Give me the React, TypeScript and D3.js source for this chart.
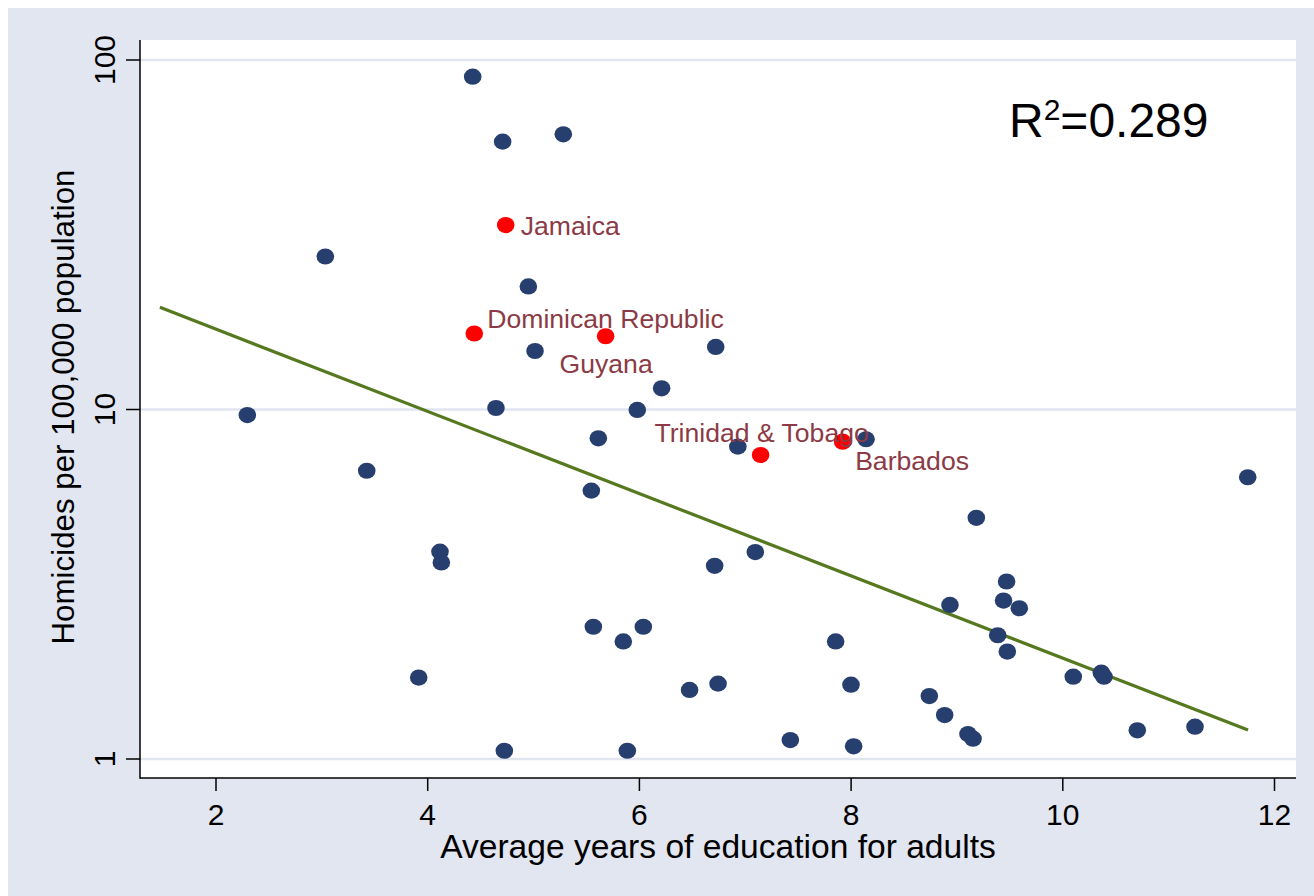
import React from 'react';
import * as d3 from 'd3';

// Other countries (years of education, homicides per 100,000)
const otherEdu = [
  4.425, 4.708, 3.033, 4.951, 5.014, 4.645, 2.296, 5.281, 6.721, 6.21,
  5.98, 3.424, 4.116, 4.129, 3.915, 4.724, 5.612, 6.93, 8.141, 5.546,
  7.095, 6.711, 5.565, 5.848, 6.037, 7.854, 6.474, 6.743, 7.999, 8.739,
  5.886, 7.426, 8.024, 11.747, 9.183, 9.469, 9.44, 9.589, 8.934, 9.385,
  9.476, 8.884, 9.104, 9.152, 10.099, 10.364, 10.389, 10.704, 11.249,
];
const otherHom = [
  89.6, 58.4, 27.4, 22.5, 14.7, 10.1, 9.64, 61.3, 15.1, 11.5,
  9.97, 6.68, 3.92, 3.65, 1.71, 1.056, 8.27, 7.83, 8.22, 5.86,
  3.91, 3.57, 2.39, 2.17, 2.39, 2.17, 1.576, 1.643, 1.632, 1.514,
  1.056, 1.133, 1.087, 6.4, 4.9, 3.22, 2.84, 2.7, 2.76, 2.26,
  2.03, 1.336, 1.179, 1.143, 1.72, 1.766, 1.72, 1.208, 1.237,
];

// Highlighted Caribbean countries
const caribNames = ['Jamaica', 'Dominican Republic', 'Guyana', 'Trinidad & Tobago', 'Barbados'];
const caribEdu = [4.737, 4.44, 5.681, 7.145, 7.92];
const caribHom = [33.7, 16.5, 16.2, 7.41, 8.09];

// Linear fit (log scale) endpoints
const fitEdu = [1.47, 11.75];
const fitHom = [19.6, 1.21];

const xTicks = [2, 4, 6, 8, 10, 12];
const yTicks = [1, 10, 100];
const xTitle = 'Average years of education for adults';
const yTitle = 'Homicides per 100,000 population';
const rSquaredText = '0.289';

// label placement (style): dx, dy, anchor
const labelPlacement: Record<string, [number, number, string]> = {
  'Jamaica': [15, 10, 'start'],
  'Dominican Republic': [13, -5.5, 'start'],
  'Guyana': [0.5, 36.6, 'middle'],
  'Trinidad & Tobago': [1, -13, 'middle'],
  'Barbados': [12.5, 28.5, 'start'],
};

const FONT = "'Liberation Sans', Arial, Helvetica, sans-serif";

export default function App() {
  const left = 140, right = 1296, top = 40, bottom = 778;
  const x = d3.scaleLinear().domain([2, 12]).range([216, 1274.5]);
  const y = d3.scaleLog().domain([1, 100]).range([759, 60]);

  const fitLine = d3.line<number>()
    .x((_, i) => x(fitEdu[i]))
    .y((_, i) => y(fitHom[i]))(fitEdu.map((v) => v)) as string;

  const navy = '#273F6E';
  const grid = '#E1E5F0';

  return (
    <svg
      width={1314}
      height={896}
      style={{ position: 'absolute', left: 0, top: 0, display: 'block' }}
      fontFamily={FONT}
    >
      <rect x={0} y={0} width={1314} height={896} fill="#ffffff" />
      <rect x={8} y={8} width={1306} height={888} fill="#E2E6F1" />
      <rect x={left} y={top} width={right - left} height={bottom - top} fill="#ffffff" />

      {/* grid lines */}
      {yTicks.map((t) => (
        <line key={'g' + t} x1={left} x2={right} y1={y(t)} y2={y(t)} stroke={grid} strokeWidth={2.5} />
      ))}

      {/* fit line */}
      <path d={fitLine} fill="none" stroke="#56781F" strokeWidth={3.2} />

      {/* other points */}
      {otherEdu.map((v, i) => (
        <ellipse key={'o' + i} cx={x(v)} cy={y(otherHom[i])} rx={8.8} ry={8.1} fill={navy} />
      ))}

      {/* caribbean points */}
      {caribEdu.map((v, i) => (
        <ellipse key={'c' + i} cx={x(v)} cy={y(caribHom[i])} rx={8.8} ry={8.1} fill="#FF0000" />
      ))}

      {/* labels */}
      {caribNames.map((n, i) => {
        const [dx, dy, anchor] = labelPlacement[n];
        return (
          <text
            key={'l' + i}
            x={x(caribEdu[i]) + dx}
            y={y(caribHom[i]) + dy}
            fontSize={26.6}
            fill="#8C3A45"
            textAnchor={anchor as any}
          >
            {n}
          </text>
        );
      })}

      {/* axes */}
      <line x1={left} x2={left} y1={top} y2={bottom + 0.75} stroke="#000" strokeWidth={1.5} />
      <line x1={left} x2={right} y1={bottom} y2={bottom} stroke="#000" strokeWidth={1.5} />
      {xTicks.map((t) => (
        <g key={'xt' + t}>
          <line x1={x(t)} x2={x(t)} y1={bottom} y2={bottom + 13} stroke="#000" strokeWidth={1.5} />
          <text x={x(t)} y={825} textAnchor="middle" fontSize={30} fill="#000">
            {t}
          </text>
        </g>
      ))}
      {yTicks.map((t) => (
        <g key={'yt' + t}>
          <line x1={left - 14} x2={left} y1={y(t)} y2={y(t)} stroke="#000" strokeWidth={1.5} />
          <text
            transform={`translate(115,${y(t)}) rotate(-90)`}
            textAnchor="middle"
            fontSize={30}
            fill="#000"
          >
            {t}
          </text>
        </g>
      ))}

      {/* axis titles */}
      <text x={(left + right) / 2} y={858} textAnchor="middle" fontSize={33.6} fill="#000">
        {xTitle}
      </text>
      <text
        transform={`translate(74,${407}) rotate(-90)`}
        textAnchor="middle"
        fontSize={31.3}
        fill="#000"
      >
        {yTitle}
      </text>

      {/* R squared */}
      <text x={1009} y={137} fontSize={48} fill="#000">
        R
        <tspan fontSize={30} dy={-17}>2</tspan>
        <tspan dy={17}>={rSquaredText}</tspan>
      </text>
    </svg>
  );
}
